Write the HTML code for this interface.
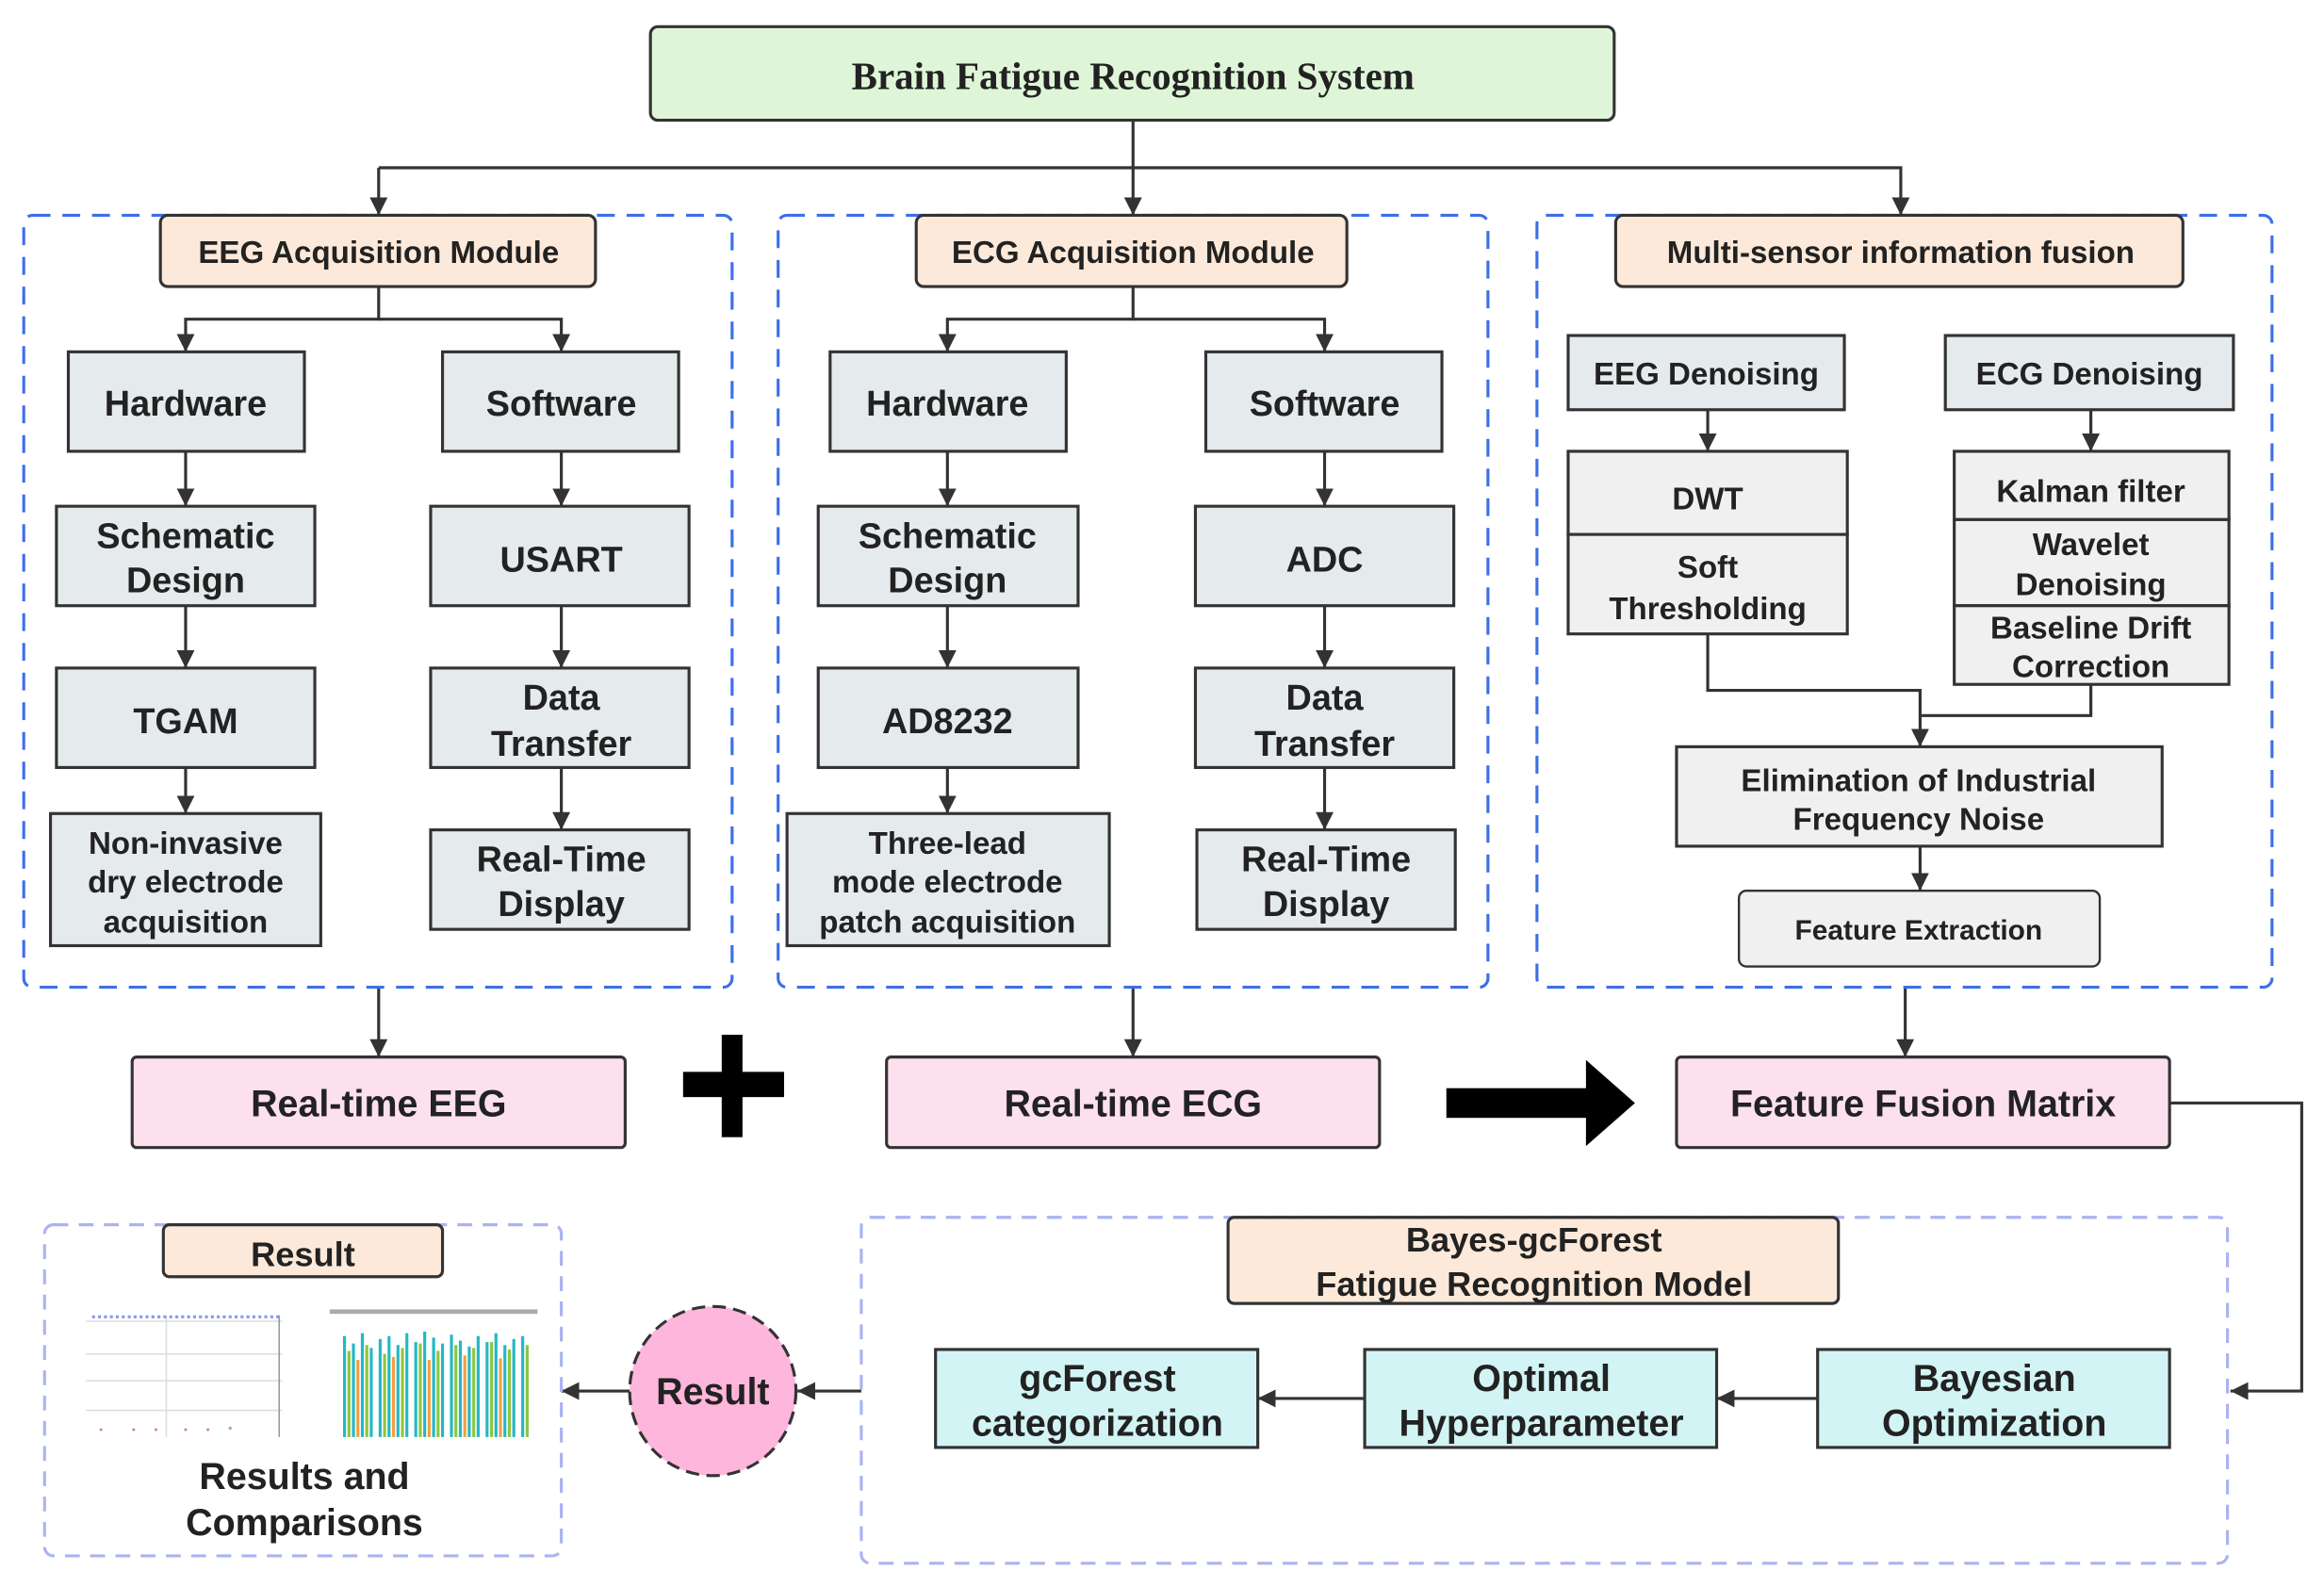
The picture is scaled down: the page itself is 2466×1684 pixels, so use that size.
<!DOCTYPE html>
<html><head><meta charset="utf-8"><style>
html,body{margin:0;padding:0;background:#fff;}
svg{display:block;}
text{font-family:"Liberation Sans",sans-serif;font-weight:bold;fill:#222;text-anchor:middle;}
</style></head><body>
<svg width="2466" height="1684" viewBox="0 0 1565 1069" preserveAspectRatio="none" xmlns="http://www.w3.org/2000/svg">
<defs>
<marker id="ah" viewBox="0 0 10 10" refX="10" refY="5" markerWidth="12" markerHeight="15" orient="auto" markerUnits="userSpaceOnUse"><path d="M0,0 L10,5 L0,10 z" fill="#333"/></marker>
</defs>
<g fill="none" stroke="#333" stroke-width="2" marker-end="url(#ah)">
<path d="M763,81 V145"/>
<path d="M255,113 H1280 V145"/>
<path d="M255,113 V145"/>
<path d="M255,193 V215 H125 V237"/><path d="M255,215 H378 V237"/>
<path d="M125,304 V341"/><path d="M125,408 V450"/><path d="M125,517 V548"/>
<path d="M378,304 V341"/><path d="M378,408 V450"/><path d="M378,517 V559"/>
<path d="M763,193 V215 H638 V237"/><path d="M763,215 H892 V237"/>
<path d="M638,304 V341"/><path d="M638,408 V450"/><path d="M638,517 V548"/>
<path d="M892,304 V341"/><path d="M892,408 V450"/><path d="M892,517 V559"/>
<path d="M1150,276 V304"/><path d="M1408,276 V304"/>
<path d="M1150,427 V465 H1293 V503"/>
<path d="M1408,461 V482 H1293" marker-end="none"/>
<path d="M1293,570 V600"/>
<path d="M255,665 V712"/><path d="M763,665 V712"/><path d="M1283,665 V712"/>
<path d="M1461,743 H1550 V937 H1502"/>
<path d="M1224,942 H1156"/><path d="M919,942 H847"/>
<path d="M580,937 H537"/><path d="M424,937 H378"/>
</g>
<rect x="438" y="18" width="649" height="63" rx="5" fill="#dff5d8" stroke="#333" stroke-width="2"/>
<text x="763" y="60" style="font-family:'Liberation Serif',serif;font-size:26px">Brain Fatigue Recognition System</text>
<g fill="none" stroke="#3d6fe8" stroke-width="2" stroke-dasharray="12,8">
<rect x="16" y="145" width="477" height="520" rx="6"/>
<rect x="524" y="145" width="478" height="520" rx="6"/>
<rect x="1035" y="145" width="495" height="520" rx="6"/>
</g>
<g fill="none" stroke="#aab4f0" stroke-width="2" stroke-dasharray="10,7">
<rect x="580" y="820" width="920" height="233" rx="6"/>
<rect x="30" y="825" width="348" height="223" rx="6"/>
</g>
<g fill="#fde9d9" stroke="#333" stroke-width="2">
<rect x="108" y="145" width="293" height="48" rx="5"/>
<rect x="617" y="145" width="290" height="48" rx="5"/>
<rect x="1088" y="145" width="382" height="48" rx="5"/>
<rect x="827" y="820" width="411" height="58" rx="4"/>
<rect x="110" y="825" width="188" height="35" rx="4"/>
</g>
<g style="font-size:21px">
<text x="255" y="177">EEG Acquisition Module</text>
<text x="763" y="177">ECG Acquisition Module</text>
<text x="1280" y="177">Multi-sensor information fusion</text>
</g>
<text x="1033" y="843" style="font-size:23px">Bayes-gcForest</text>
<text x="1033" y="873" style="font-size:23px">Fatigue Recognition Model</text>
<text x="204" y="853" style="font-size:23px">Result</text>
<g fill="#e5eaec" stroke="#333" stroke-width="2">
<rect x="46" y="237" width="159" height="67"/><rect x="298" y="237" width="159" height="67"/>
<rect x="38" y="341" width="174" height="67"/><rect x="290" y="341" width="174" height="67"/>
<rect x="38" y="450" width="174" height="67"/><rect x="290" y="450" width="174" height="67"/>
<rect x="34" y="548" width="182" height="89"/><rect x="290" y="559" width="174" height="67"/>
<rect x="559" y="237" width="159" height="67"/><rect x="812" y="237" width="159" height="67"/>
<rect x="551" y="341" width="175" height="67"/><rect x="805" y="341" width="174" height="67"/>
<rect x="551" y="450" width="175" height="67"/><rect x="805" y="450" width="174" height="67"/>
<rect x="530" y="548" width="217" height="89"/><rect x="806" y="559" width="174" height="67"/>
<rect x="1056" y="226" width="186" height="50"/><rect x="1310" y="226" width="194" height="50"/>
</g>
<g style="font-size:24px">
<text x="125" y="280">Hardware</text><text x="378" y="280">Software</text>
<text x="125" y="369">Schematic</text><text x="125" y="399">Design</text>
<text x="378" y="385">USART</text>
<text x="125" y="494">TGAM</text>
<text x="378" y="478">Data</text><text x="378" y="509">Transfer</text>
<text x="378" y="587">Real-Time</text><text x="378" y="617">Display</text>
<text x="638" y="280">Hardware</text><text x="892" y="280">Software</text>
<text x="638" y="369">Schematic</text><text x="638" y="399">Design</text>
<text x="892" y="385">ADC</text>
<text x="638" y="494">AD8232</text>
<text x="892" y="478">Data</text><text x="892" y="509">Transfer</text>
<text x="893" y="587">Real-Time</text><text x="893" y="617">Display</text>
</g>
<g style="font-size:21px">
<text x="125" y="575">Non-invasive</text><text x="125" y="601">dry electrode</text><text x="125" y="628">acquisition</text>
<text x="638" y="575">Three-lead</text><text x="638" y="601">mode electrode</text><text x="638" y="628">patch acquisition</text>
<text x="1149" y="259">EEG Denoising</text><text x="1407" y="259">ECG Denoising</text>
</g>
<g fill="#f0f0f0" stroke="#333" stroke-width="2">
<rect x="1056" y="304" width="188" height="56"/><rect x="1056" y="360" width="188" height="67"/>
<rect x="1316" y="304" width="185" height="46"/><rect x="1316" y="350" width="185" height="58"/><rect x="1316" y="408" width="185" height="53"/>
<rect x="1129" y="503" width="327" height="67"/>
<rect x="1171" y="600" width="243" height="51" rx="5" stroke-width="1.5"/>
</g>
<g style="font-size:21px">
<text x="1150" y="343">DWT</text>
<text x="1150" y="389">Soft</text><text x="1150" y="417">Thresholding</text>
<text x="1408" y="338">Kalman filter</text>
<text x="1408" y="374">Wavelet</text><text x="1408" y="401">Denoising</text>
<text x="1408" y="430">Baseline Drift</text><text x="1408" y="456">Correction</text>
<text x="1292" y="533">Elimination of Industrial</text><text x="1292" y="559">Frequency Noise</text>
<text x="1292" y="633" style="font-size:19px">Feature Extraction</text>
</g>
<g fill="#fde0ee" stroke="#333" stroke-width="2">
<rect x="89" y="712" width="332" height="61" rx="3"/>
<rect x="597" y="712" width="332" height="61" rx="3"/>
<rect x="1129" y="712" width="332" height="61" rx="3"/>
</g>
<g style="font-size:25px">
<text x="255" y="752">Real-time EEG</text><text x="763" y="752">Real-time ECG</text><text x="1295" y="752">Feature Fusion Matrix</text>
</g>
<rect x="460" y="722" width="68" height="17" fill="#000"/><rect x="486" y="697" width="14" height="69" fill="#000"/>
<rect x="974" y="733" width="96" height="20" fill="#000"/><path d="M1068,714 L1101,743 L1068,772 z" fill="#000"/>
<g fill="#d3f4f4" stroke="#333" stroke-width="2">
<rect x="630" y="909" width="217" height="66"/><rect x="919" y="909" width="237" height="66"/><rect x="1224" y="909" width="237" height="66"/>
</g>
<g style="font-size:25px">
<text x="739" y="937">gcForest</text><text x="739" y="967">categorization</text>
<text x="1038" y="937">Optimal</text><text x="1038" y="967">Hyperparameter</text>
<text x="1343" y="937">Bayesian</text><text x="1343" y="967">Optimization</text>
</g>
<ellipse cx="480" cy="937" rx="56" ry="57" fill="#ffb6dc" stroke="#333" stroke-width="2" stroke-dasharray="9,5"/>
<text x="480" y="946" style="font-size:25px">Result</text>
<g stroke="#ddd" stroke-width="1">
<line x1="58" y1="890" x2="190" y2="890"/><line x1="58" y1="912" x2="190" y2="912"/><line x1="58" y1="930" x2="190" y2="930"/><line x1="58" y1="950" x2="190" y2="950"/>
<line x1="112" y1="886" x2="112" y2="968"/><line x1="188" y1="886" x2="188" y2="968" stroke="#999"/>
</g>
<path d="M62,887 H188" stroke="#8899ee" stroke-width="2" stroke-dasharray="2,2"/>
<g fill="#c8a"><circle cx="68" cy="963" r="1"/><circle cx="90" cy="963" r="1"/><circle cx="105" cy="963" r="1"/><circle cx="125" cy="963" r="1"/><circle cx="140" cy="963" r="1"/><circle cx="155" cy="962" r="1"/></g>
<rect x="222" y="882" width="140" height="3" fill="#aaa"/>
<g stroke-width="2">
<path d="M232,968 V900 M238,968 V905 M244,968 V898 M250,968 V908 M256,968 V902 M262,968 V900 M268,968 V906 M274,968 V898 M280,968 V904 M286,968 V897 M292,968 V901 M298,968 V905 M304,968 V899 M310,968 V903 M316,968 V907 M322,968 V900 M328,968 V904 M334,968 V898 M340,968 V906 M346,968 V902 M352,968 V900" stroke="#22b8c8"/>
<path d="M235,968 V910 M247,968 V906 M259,968 V912 M271,968 V908 M283,968 V905 M295,968 V910 M307,968 V906 M319,968 V908 M331,968 V904 M343,968 V909 M355,968 V906" stroke="#8cc63f"/>
<path d="M241,968 V916 M265,968 V914 M289,968 V916 M313,968 V913 M337,968 V915" stroke="#f0a040"/>
</g>
<text x="205" y="1003" style="font-size:25px">Results and</text>
<text x="205" y="1034" style="font-size:25px">Comparisons</text>
</svg>
</body></html>
